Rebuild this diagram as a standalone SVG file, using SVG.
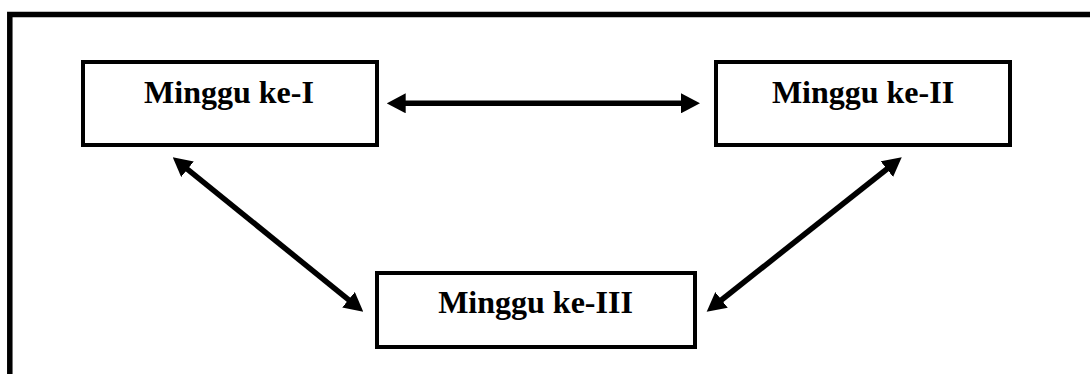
<svg xmlns="http://www.w3.org/2000/svg" width="1090" height="374" viewBox="0 0 1090 374">
  <style>
    .box { fill: #ffffff; stroke: #000000; stroke-width: 4; }
    .lbl { font-family: "Liberation Serif", "Times New Roman", serif; font-weight: bold; font-size: 32px; fill: #000000; text-anchor: middle; }
    .conn { stroke: #000000; stroke-width: 5.5; fill: none; marker-start: url(#ah); marker-end: url(#ah); }
    .frame { stroke: #000000; stroke-width: 5.5; fill: none; }
  </style>
  <defs>
    <marker id="ah" markerUnits="userSpaceOnUse" markerWidth="19" markerHeight="20" viewBox="0 0 19 20" refX="9" refY="10" orient="auto-start-reverse">
      <path d="M0,0 L19,10 L0,20 z" fill="#000000"/>
    </marker>
  </defs>
  <rect width="1090" height="374" fill="#ffffff"/>
  <path class="frame" d="M9.8,374 V14.6 H1090"/>
  <g id="node-minggu-1">
    <rect class="box" x="83" y="62" width="294" height="83"/>
    <text class="lbl" x="229" y="102.7">Minggu ke-I</text>
  </g>
  <g id="node-minggu-2">
    <rect class="box" x="716" y="62" width="294" height="83"/>
    <text class="lbl" x="863" y="102.7">Minggu ke-II</text>
  </g>
  <g id="node-minggu-3">
    <rect class="box" x="377" y="273" width="318" height="74"/>
    <text class="lbl" x="535.5" y="313.3">Minggu ke-III</text>
  </g>
  <g id="connectors">
    <line class="conn" x1="396.7" y1="103.3" x2="690" y2="103.3"/>
    <line class="conn" x1="180.5" y1="163.6" x2="355.5" y2="305.4"/>
    <line class="conn" x1="893.9" y1="163.5" x2="714.5" y2="305.5"/>
  </g>
</svg>
